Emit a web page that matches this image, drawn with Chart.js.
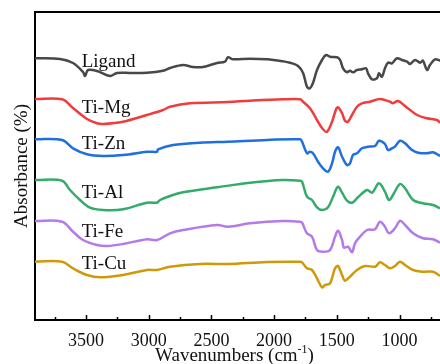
<!DOCTYPE html>
<html lang="en">
<head>
<meta charset="UTF-8">
<title>FTIR spectra</title>
<script src="https://cdn.jsdelivr.net/npm/chart.js"></script>
<style>
  body { margin: 0; background: #fff; }
  .wrap { width: 440px; height: 364px; position: relative; overflow: hidden; }
</style>
</head>
<body>
<div class="wrap"><canvas id="chart"></canvas></div>
<script>
// spectra (wavenumber in cm-1, absorbance in arbitrary stacked units)
const ligandWn  = [3907, 3707, 3604, 3524, 3508, 3484, 3412, 3309, 3253, 3149, 3014, 2886, 2830, 2726, 2647, 2567, 2455, 2392, 2368, 2328, 2192, 2057, 1929, 1873, 1809, 1769, 1738, 1714, 1690, 1658, 1618, 1586, 1554, 1498, 1474, 1450, 1419, 1395, 1371, 1339, 1299, 1267, 1251, 1219, 1180, 1164, 1140, 1116, 1092, 1060, 1020, 980, 940, 916, 876, 836, 813, 781, 757, 717, 677];
const ligandAbs = [2.617, 2.61, 2.57, 2.48, 2.44, 2.50, 2.49, 2.44, 2.47, 2.47, 2.473, 2.493, 2.52, 2.55, 2.53, 2.53, 2.57, 2.583, 2.627, 2.607, 2.613, 2.607, 2.587, 2.573, 2.54, 2.47, 2.333, 2.317, 2.37, 2.50, 2.60, 2.65, 2.633, 2.627, 2.60, 2.517, 2.477, 2.493, 2.477, 2.50, 2.507, 2.517, 2.467, 2.407, 2.417, 2.467, 2.433, 2.517, 2.573, 2.567, 2.617, 2.60, 2.583, 2.56, 2.60, 2.573, 2.593, 2.50, 2.55, 2.607, 2.593];

const mgWn  = [3907, 3691, 3604, 3492, 3412, 3364, 3205, 3014, 2886, 2830, 2671, 2368, 2192, 1929, 1793, 1769, 1714, 1658, 1610, 1578, 1538, 1506, 1490, 1458, 1435, 1411, 1379, 1339, 1299, 1235, 1156, 1076, 1052, 1012, 956, 860, 781, 701, 677];
const mgAbs = [2.21, 2.207, 2.12, 2.01, 1.967, 1.96, 1.983, 2.05, 2.10, 2.133, 2.167, 2.18, 2.193, 2.207, 2.207, 2.183, 2.117, 2.00, 1.907, 1.883, 1.983, 2.107, 2.127, 2.067, 1.993, 1.983, 2.05, 2.133, 2.167, 2.183, 2.21, 2.183, 2.167, 2.19, 2.14, 2.05, 2.017, 2.00, 1.973];

const znWn  = [3907, 3691, 3604, 3492, 3364, 3205, 3014, 2990, 2934, 2926, 2806, 2591, 2368, 2057, 1793, 1777, 1738, 1714, 1690, 1650, 1610, 1570, 1538, 1514, 1490, 1458, 1419, 1395, 1371, 1339, 1299, 1251, 1195, 1164, 1116, 1092, 1060, 1036, 996, 956, 900, 852, 781, 733, 677];
const znAbs = [1.807, 1.80, 1.717, 1.657, 1.64, 1.65, 1.683, 1.683, 1.683, 1.707, 1.75, 1.773, 1.783, 1.80, 1.807, 1.783, 1.667, 1.683, 1.667, 1.583, 1.517, 1.483, 1.567, 1.683, 1.727, 1.633, 1.55, 1.567, 1.65, 1.667, 1.717, 1.733, 1.74, 1.793, 1.76, 1.70, 1.717, 1.733, 1.793, 1.767, 1.70, 1.673, 1.667, 1.677, 1.64];

const alWn  = [3907, 3691, 3628, 3548, 3468, 3364, 3205, 3014, 2934, 2910, 2830, 2726, 2455, 2192, 1929, 1793, 1777, 1738, 1698, 1658, 1618, 1570, 1530, 1490, 1458, 1419, 1379, 1331, 1259, 1219, 1164, 1116, 1084, 1052, 996, 956, 892, 813, 733, 677];
const alAbs = [1.40, 1.393, 1.30, 1.20, 1.123, 1.10, 1.107, 1.173, 1.173, 1.20, 1.24, 1.277, 1.327, 1.373, 1.40, 1.393, 1.383, 1.233, 1.20, 1.127, 1.10, 1.127, 1.233, 1.333, 1.273, 1.193, 1.173, 1.227, 1.30, 1.273, 1.367, 1.283, 1.20, 1.25, 1.36, 1.317, 1.20, 1.167, 1.15, 1.117];

const feWn  = [3907, 3691, 3604, 3524, 3412, 3333, 3205, 3014, 2934, 2830, 2726, 2455, 2368, 2192, 1929, 1793, 1777, 1738, 1698, 1658, 1610, 1554, 1514, 1490, 1458, 1443, 1411, 1379, 1355, 1315, 1259, 1195, 1156, 1116, 1084, 1036, 996, 956, 892, 813, 733, 677];
const feAbs = [0.99, 0.983, 0.883, 0.80, 0.75, 0.74, 0.76, 0.807, 0.80, 0.867, 0.90, 0.95, 0.933, 0.967, 0.99, 0.983, 0.973, 0.867, 0.833, 0.70, 0.683, 0.70, 0.833, 0.893, 0.80, 0.723, 0.733, 0.677, 0.767, 0.833, 0.90, 0.907, 0.983, 0.933, 0.867, 0.917, 0.993, 0.95, 0.867, 0.817, 0.807, 0.773];

const cuWn  = [3907, 3691, 3604, 3492, 3388, 3205, 3014, 2934, 2830, 2591, 2368, 2057, 1793, 1777, 1738, 1698, 1658, 1618, 1594, 1554, 1514, 1490, 1458, 1435, 1395, 1339, 1275, 1195, 1156, 1116, 1076, 1036, 996, 956, 892, 813, 733, 677];
const cuAbs = [0.583, 0.583, 0.517, 0.45, 0.427, 0.45, 0.50, 0.50, 0.533, 0.56, 0.56, 0.58, 0.583, 0.577, 0.517, 0.50, 0.417, 0.327, 0.35, 0.367, 0.517, 0.54, 0.45, 0.393, 0.433, 0.50, 0.54, 0.533, 0.577, 0.55, 0.517, 0.54, 0.583, 0.55, 0.50, 0.483, 0.483, 0.44];

const seriesNames  = ['Ligand', 'Ti-Mg', 'Ti-Zn', 'Ti-Al', 'Ti-Fe', 'Ti-Cu'];
const seriesColors = ['#484848', '#f03c3c', '#1f6fe0', '#33ab6a', '#b47ae8', '#cf9a0a'];
const seriesWn  = [ligandWn, mgWn, znWn, alWn, feWn, cuWn];
const seriesAbs = [ligandAbs, mgAbs, znAbs, alAbs, feAbs, cuAbs];

// where each name sits (wavenumber, absorbance of the text baseline)
const labelWn  = 3535;
const labelAbs = [2.533, 2.073, 1.707, 1.217, 0.827, 0.507];

const majorTicks = [3500, 3000, 2500, 2000, 1500, 1000];
const minorTicks = [3750, 3250, 2750, 2250, 1750, 1250, 750];

const serif = "'Liberation Serif', 'Times New Roman', serif";

const datasets = seriesNames.map((name, i) => ({
  label: name,
  data: seriesWn[i].map((w, j) => ({ x: w, y: seriesAbs[i][j] })),
  borderColor: seriesColors[i],
  borderWidth: 2.5,
  pointRadius: 0,
  tension: 0.35,
  fill: false
}));

const decorations = {
  id: 'decorations',
  afterDraw(chart) {
    const ctx = chart.ctx;
    const area = chart.chartArea;
    const xs = chart.scales.x;
    const ys = chart.scales.y;
    ctx.save();

    // top frame
    ctx.strokeStyle = '#000';
    ctx.lineWidth = 2;
    ctx.beginPath();
    ctx.moveTo(area.left - 1, area.top);
    ctx.lineTo(area.right + 2, area.top);
    ctx.stroke();

    // inward ticks on the bottom axis
    ctx.lineWidth = 1.5;
    ctx.beginPath();
    majorTicks.concat(minorTicks).forEach(v => {
      const px = Math.round(xs.getPixelForValue(v)) + 0.5;
      const len = majorTicks.includes(v) ? 5 : 3;
      ctx.moveTo(px, area.bottom);
      ctx.lineTo(px, area.bottom - len);
    });
    ctx.stroke();

    // series names
    ctx.fillStyle = '#111';
    ctx.font = '19px ' + serif;
    ctx.textAlign = 'left';
    ctx.textBaseline = 'alphabetic';
    seriesNames.forEach((name, i) => {
      ctx.fillText(name, xs.getPixelForValue(labelWn), ys.getPixelForValue(labelAbs[i]));
    });

    // x-axis title with superscript
    const main = 'Wavenumbers (cm';
    const sup = '-1';
    const tail = ')';
    ctx.font = '19px ' + serif;
    const wMain = ctx.measureText(main).width;
    const wTail = ctx.measureText(tail).width;
    ctx.font = '12px ' + serif;
    const wSup = ctx.measureText(sup).width;
    const total = wMain + wSup + wTail;
    let x = (area.left + area.right) / 2 - 3 - total / 2;
    const base = 361;
    ctx.font = '19px ' + serif;
    ctx.fillText(main, x, base);
    x += wMain;
    ctx.font = '12px ' + serif;
    ctx.fillText(sup, x, base - 8);
    x += wSup;
    ctx.font = '19px ' + serif;
    ctx.fillText(tail, x, base);

    ctx.restore();
  }
};

new Chart(document.getElementById('chart'), {
  type: 'line',
  data: { datasets },
  options: {
    responsive: true,
    maintainAspectRatio: false,
    animation: false,
    layout: { padding: { top: 12, right: 0, left: 0, bottom: 0 } },
    plugins: {
      legend: { display: false },
      tooltip: { enabled: false }
    },
    scales: {
      x: {
        type: 'linear',
        reverse: true,
        min: 677,
        max: 3907,
        grid: { display: false, drawTicks: false },
        border: { display: true, color: '#000', width: 2 },
        afterBuildTicks: scale => {
          scale.ticks = majorTicks.concat(minorTicks).sort((a, b) => a - b).map(v => ({ value: v }));
        },
        ticks: {
          autoSkip: false,
          maxRotation: 0,
          padding: 10,
          color: '#111',
          font: { family: serif, size: 18 },
          callback: value => majorTicks.includes(value) ? String(value) : ''
        },
        afterFit: scale => { scale.height = 44; }
      },
      y: {
        min: 0,
        max: 3.08,
        grid: { display: false, drawTicks: false },
        border: { display: true, color: '#000', width: 2 },
        ticks: { display: false },
        title: {
          display: true,
          text: 'Absorbance (%)',
          color: '#111',
          font: { family: serif, size: 19 },
          padding: { top: 11, bottom: 0 }
        },
        afterFit: scale => { scale.width = 35; }
      }
    }
  },
  plugins: [decorations]
});
</script>
</body>
</html>
